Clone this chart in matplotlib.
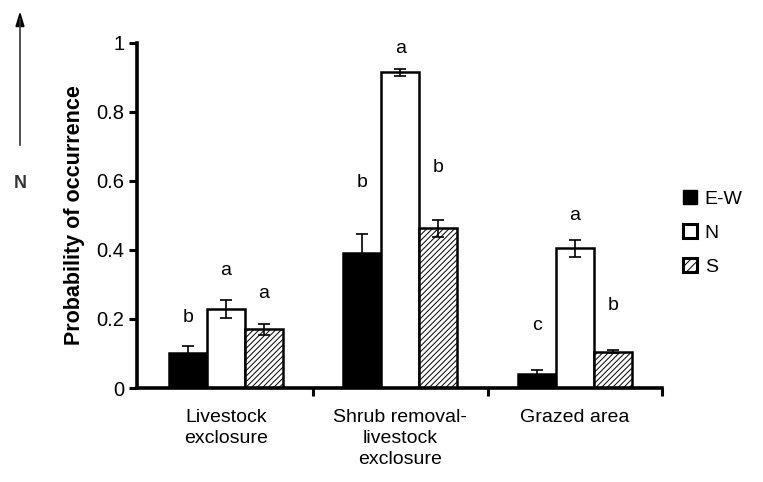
import numpy as np
import matplotlib.pyplot as plt
from matplotlib.patches import Patch

plt.rcParams['font.family'] = ['Liberation Sans', 'DejaVu Sans']
plt.rcParams['hatch.linewidth'] = 0.7

groups = ["Livestock\nexclosure", "Shrub removal-\nlivestock\nexclosure", "Grazed area"]
series = ["E-W", "N", "S"]
ew = [0.10, 0.39, 0.04]
n = [0.23, 0.915, 0.405]
s = [0.17, 0.463, 0.105]
ew_err = [0.022, 0.057, 0.012]
n_err = [0.026, 0.010, 0.024]
s_err = [0.015, 0.025, 0.005]
letters = [["b", "a", "a"], ["b", "a", "b"], ["c", "a", "b"]]
letter_y = [[0.205, 0.34, 0.275], [0.595, 0.985, 0.64], [0.18, 0.50, 0.24]]

fig = plt.figure(figsize=(7.63, 4.82), dpi=100)
ax = fig.add_axes([0.1796, 0.195, 0.688, 0.716])

x = np.arange(len(groups))
w = 0.218
styles = [dict(color="black", edgecolor="black"),
          dict(color="white", edgecolor="black"),
          dict(color="white", edgecolor="black", hatch="//////")]
vals = [ew, n, s]
errs = [ew_err, n_err, s_err]
for i in range(3):
    ax.bar(x + (i - 1) * w, vals[i], w, linewidth=1.8, **styles[i], zorder=2)
    ax.errorbar(x + (i - 1) * w, vals[i], yerr=errs[i], fmt="none",
                ecolor="black", elinewidth=1.2, capsize=4, capthick=1.2, zorder=3)
    for g in range(3):
        ax.text(x[g] + (i - 1) * w, letter_y[g][i], letters[g][i],
                ha="center", va="center", fontsize=14, clip_on=False)

ax.set_xlim(-0.51, 2.5)
ax.set_ylim(0, 1)
ax.set_yticks([0, 0.2, 0.4, 0.6, 0.8, 1.0])
ax.set_yticklabels(["0", "0.2", "0.4", "0.6", "0.8", "1"])
ax.set_xticks([0.5, 1.5, 2.5])
ax.set_xticklabels([])
ax.tick_params(axis="both", direction="out", length=6, width=2.2, labelsize=14.5, pad=3)
for side in ["top", "right"]:
    ax.spines[side].set_visible(False)
for side in ["left", "bottom"]:
    ax.spines[side].set_linewidth(2.6)
ax.spines["bottom"].set_bounds(-0.51, 2.5)

for g in range(3):
    ax.text(x[g], -0.06, groups[g], ha="center", va="top", fontsize=14,
            transform=ax.transData, clip_on=False, linespacing=1.3)

ax.set_ylabel("Probability of occurrence", fontsize=15.5, fontweight="bold", labelpad=8)

handles = [Patch(facecolor="black", edgecolor="black"),
           Patch(facecolor="white", edgecolor="black", linewidth=2.2),
           Patch(facecolor="white", edgecolor="black", hatch="////", linewidth=2.2)]
fig.legend(handles, series, loc="upper left", bbox_to_anchor=(0.895, 0.606),
           frameon=False, fontsize=14, handlelength=0.72, handleheight=0.72,
           handletextpad=0.4, labelspacing=0.85, borderpad=0, borderaxespad=0)

# north arrow
fig.add_artist(plt.Line2D([0.0262, 0.0262], [0.70, 0.96], color="#333333", lw=1.2))
fig.patches.append(plt.Polygon([[0.0262, 0.972], [0.021, 0.945], [0.0314, 0.945]],
                               closed=True, color="black", transform=fig.transFigure))
fig.text(0.0262, 0.62, "N", ha="center", va="center", fontsize=13, fontweight="bold",
         color="#333333")

fig.savefig("out.png", dpi=100)
